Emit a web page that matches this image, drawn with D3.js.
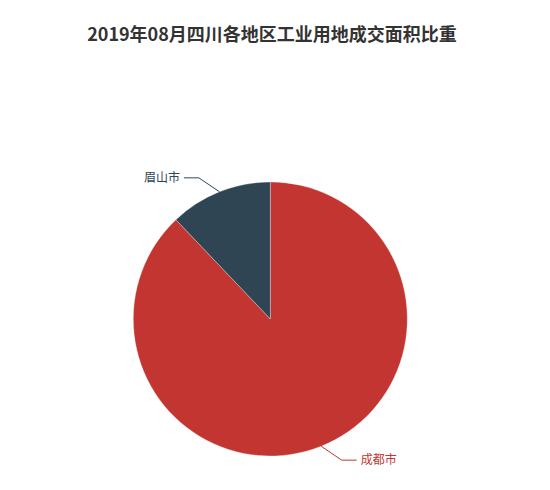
<!DOCTYPE html>
<html>
<head>
<meta charset="utf-8">
<script src="https://cdn.jsdelivr.net/npm/d3@7"></script>
<style>
  body { margin: 0; background: #fff; }
  text { font-family: "Noto Sans CJK SC", "Noto Sans", sans-serif; }
</style>
</head>
<body>
<script>
const width = 550
const height = 490
const title = "2019年08月四川各地区工业用地成交面积比重"

// data (share of area, %)
const regions = ["成都市", "眉山市"]
const shares = [87.9, 12.1]
const colors = ["#c23531", "#2f4554"]

const cx = 270.3
const cy = 319
const radius = 137
const len1 = 15
const len2 = 15

var svg = d3.select("body").append("svg")
            .attr("width", width)
            .attr("height", height);

svg.append("text")
   .attr("x", 272)
   .attr("y", 41)
   .attr("text-anchor", "middle")
   .style("font-size", "18px")
   .style("font-weight", "bold")
   .style("fill", "#333")
   .text(title);

const items = regions.map((r, i) => ({ name: r, value: shares[i], color: colors[i] }))

// clockwise from 12 o'clock, like the original
const pie = d3.pie().sort(null).value(d => d.value)
const arc = d3.arc().innerRadius(0).outerRadius(radius)
const arcs = pie(items)

const g = svg.append("g").attr("transform", `translate(${cx},${cy})`)

g.selectAll("path.slice")
 .data(arcs)
 .enter().append("path")
 .attr("class", "slice")
 .attr("d", arc)
 .style("fill", d => d.data.color)
 .style("stroke", "#fff")
 .style("stroke-width", 0.5)
 .style("stroke-opacity", 0.6);

// label lines + labels
arcs.forEach(d => {
  const mid = (d.startAngle + d.endAngle) / 2
  const dx = Math.sin(mid)
  const dy = -Math.cos(mid)
  const side = dx < 0 ? -1 : 1
  const x0 = radius * dx, y0 = radius * dy
  const x1 = x0 + len1 * dx + side * len1, y1 = y0 + len1 * dy
  const x2 = x1 + side * len2

  g.append("polyline")
   .attr("points", [[x0, y0], [x1, y1], [x2, y1]].map(p => p.join(",")).join(" "))
   .style("fill", "none")
   .style("stroke", d.data.color)
   .style("stroke-width", 1);

  g.append("text")
   .attr("x", x2 + side * 4)
   .attr("y", y1)
   .attr("dy", "0.35em")
   .attr("text-anchor", side < 0 ? "end" : "start")
   .style("font-size", "12px")
   .style("fill", d.data.color)
   .text(d.data.name);
})
</script>
</body>
</html>
